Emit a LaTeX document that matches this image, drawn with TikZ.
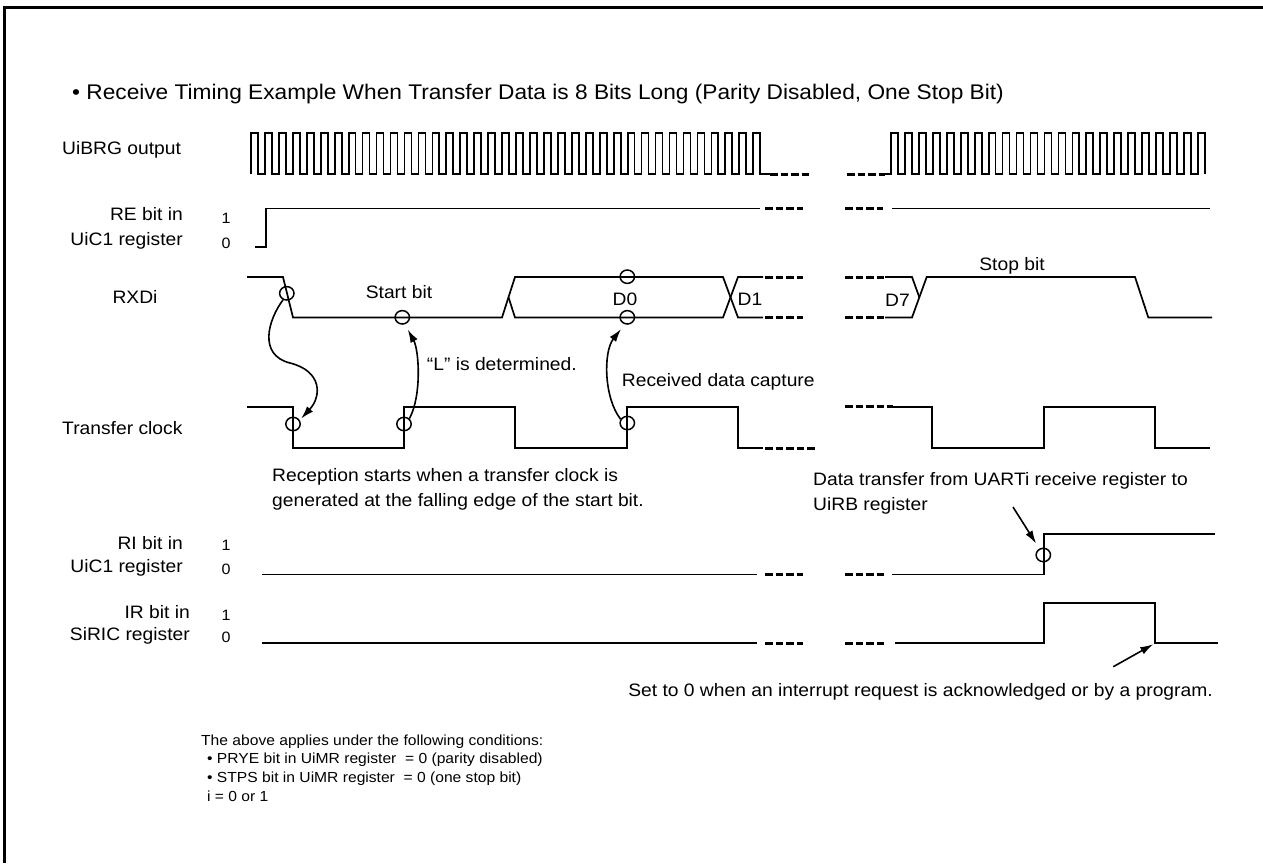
\documentclass[tikz,border=0pt]{standalone}
\usepackage{fontspec}
\setmainfont{Liberation Sans}[FakeStretch=1.07]
\usetikzlibrary{arrows.meta,shapes.geometric}
\newcommand{\bodyfs}{\fontsize{18}{21}\selectfont}
\newcommand{\titlefs}{\fontsize{21.2}{25}\selectfont}
\newcommand{\smallfs}{\fontsize{14.6}{17}\selectfont}
\newcommand{\digitfs}{\fontsize{15}{17}\selectfont}
\begin{document}
\begin{tikzpicture}[x=1pt,y=-1pt,
  sig/.style={line width=1.7pt},
  brk/.style={line width=3pt,dash pattern=on 7.5pt off 3pt},
  probe/.style={draw,ellipse,line width=1.5pt,minimum width=14.4pt,minimum height=13.4pt,inner sep=0pt},
  arr/.style={line width=1.6pt,-{Latex[length=13pt,width=8pt]}},
  lbl/.style={inner sep=0pt,font=\bodyfs},
  dig/.style={inner sep=0pt,font=\digitfs,anchor=base},
  cond/.style={inner sep=0pt,font=\smallfs,anchor=base west}]
\useasboundingbox (0,0) rectangle (1263,863);
% frame
\draw[line width=3pt] (4.5,863) -- (4.5,7.5) -- (1263,7.5);
% title
\node[inner sep=0pt,font=\titlefs,anchor=base west] (title) at (72,99) {• Receive Timing Example When Transfer Data is 8 Bits Long (Parity Disabled, One Stop Bit)};
% signal labels
\node[lbl,anchor=base west] (lbrg) at (62,154) {UiBRG output};
\node[lbl,anchor=base east] (lre1) at (183,220) {RE bit in};
\node[lbl,anchor=base east] (lre2) at (183,245) {UiC1 register};
\node[dig] (re1) at (226,223) {1};
\node[dig] (re0) at (226,248) {0};
\node[lbl,anchor=base] (lrxd) at (135,303.5) {RXDi};
\node[lbl,anchor=base west] (lclk) at (62,434.5) {Transfer clock};
\node[lbl,anchor=base east] (lri1) at (183,549) {RI bit in};
\node[lbl,anchor=base east] (lri2) at (183,572.7) {UiC1 register};
\node[dig] (ri1) at (226,550.7) {1};
\node[dig] (ri0) at (226,574) {0};
\node[lbl,anchor=base east] (lir1) at (190,618) {IR bit in};
\node[lbl,anchor=base east] (lir2) at (190,640.7) {SiRIC register};
\node[dig] (ir1) at (226,620) {1};
\node[dig] (ir0) at (226,642.7) {0};
% UiBRG output clock
\draw[sig] (251,174) \foreach \k in {0,...,36}{ -- ++(0,-41) -- ++(6.975,0) -- ++(0,41) -- ++(6.975,0)} -- (770,174);
\draw[brk] (770,174) -- (810,174);
\draw[brk] (847,174) -- (885,174);
\draw[sig] (885,174) -- (891,174) \foreach \k in {0,...,21}{ -- ++(0,-41) -- ++(6.975,0) -- ++(0,41) -- ++(6.975,0)} -- ++(0,-41) -- ++(6.975,0) -- ++(0,41);
% RE bit
\draw[sig] (255,247) -- (266,247) -- (266,208.5) -- (760,208.5);
\draw[brk] (765,208.5) -- (803,208.5);
\draw[brk] (845,208.5) -- (883,208.5);
\draw[sig] (892,208.5) -- (1210,208.5);
% RXDi
\draw[sig] (247,277) -- (283,277) -- (293,317.5) -- (502,317.5) -- (515,277) -- (723,277) -- (738,317.5) -- (763,317.5);
\draw[sig] (508.5,297.25) -- (515,317.5) -- (723,317.5) -- (738,277) -- (763,277);
\draw[brk] (765,277) -- (803,277);
\draw[brk] (765,317.5) -- (803,317.5);
\draw[brk] (845,277) -- (885,277);
\draw[brk] (845,317.5) -- (885,317.5);
\draw[sig] (885,277) -- (912,277) -- (919.3,297.25);
\draw[sig] (885,317.5) -- (912,317.5) -- (926.7,277) -- (1135,277) -- (1148.3,317.5) -- (1212,317.5);
\node[lbl,anchor=base] (sbit) at (399,298.3) {Start bit};
\node[lbl,anchor=base] (d0) at (625,305) {D0};
\node[lbl,anchor=base] (d1) at (750,305) {D1};
\node[lbl,anchor=base] (d7) at (897.5,306) {D7};
\node[lbl,anchor=base] (stopbit) at (1012,270) {Stop bit};
% Transfer clock
\draw[sig] (247,406.7) -- (292.7,406.7) -- (292.7,448.3) -- (404,448.3) -- (404,406.7) -- (515,406.7) -- (515,448.3) -- (627.3,448.3) -- (627.3,406.7) -- (738,406.7) -- (738,448.3) -- (763,448.3);
\draw[brk] (765,448.3) -- (815,448.3);
\draw[brk] (845,406.7) -- (893,406.7);
\draw[sig] (893,406.7) -- (932,406.7) -- (932,448.3) -- (1044,448.3) -- (1044,406.7) -- (1155,406.7) -- (1155,448.3) -- (1210,448.3);
% RI bit
\draw[sig] (262,574.5) -- (757,574.5);
\draw[brk] (765,574.5) -- (803,574.5);
\draw[brk] (845,574.5) -- (885,574.5);
\draw[sig] (891.7,574.5) -- (1044,574.5) -- (1044,534) -- (1215,534);
% IR bit
\draw[sig] (262,643.3) -- (757,643.3);
\draw[brk] (765,643.3) -- (803,643.3);
\draw[brk] (845,643.3) -- (885,643.3);
\draw[sig] (895,643.3) -- (1044,643.3) -- (1044,602.7) -- (1155,602.7) -- (1155,643.3) -- (1218,643.3);
\coordinate (irfall) at (1155,643.3);
% probe circles
\node[probe] (c1) at (286.8,293.3) {};
\node[probe] (c2) at (402.3,317.3) {};
\node[probe] (c3) at (627.3,276.7) {};
\node[probe] (c4) at (627.3,317.3) {};
\node[probe] (c5) at (293,424) {};
\node[probe] (c6) at (404,424) {};
\node[probe] (c7) at (627.3,423) {};
\node[probe] (c8) at (1043.3,555) {};
% arrows
\draw[arr,shorten >=2pt] (c1.240) .. controls (268,320) and (258,355) .. (290,363) .. controls (322,371) and (322,396) .. (c5.30);
\draw[arr,shorten >=6pt] (c6.45) .. controls (422,395) and (419,350) .. (c2.-70);
\draw[arr,shorten >=6pt] (c7.150) .. controls (604,398) and (603,352) .. (c4.-110);
\coordinate (a4s) at (1013,507);
\draw[arr,shorten >=6pt] (a4s) -- (c8.122);
\coordinate (a5s) at (1113.3,666.7);
\draw[arr,shorten >=2pt] (a5s) -- (irfall);
% annotations
\node[lbl,anchor=base west] (ldet) at (426.7,370) {“L” is determined.};
\node[lbl,anchor=base west] (lcap) at (621.7,386.7) {Received data capture};
\node[lbl,anchor=base west] (lrec1) at (272,481) {Reception starts when a transfer clock is};
\node[lbl,anchor=base west] (lrec2) at (272,506.5) {generated at the falling edge of the start bit.};
\node[lbl,anchor=base west] (ldt1) at (813,485) {Data transfer from UARTi receive register to};
\node[lbl,anchor=base west] (ldt2) at (813,510) {UiRB register};
\node[lbl,anchor=base east] (lset) at (1213,696) {Set to 0 when an interrupt request is acknowledged or by a program.};
% conditions
\node[cond] (cd0) at (201,745) {The above applies under the following conditions:};
\node[cond] (cd1) at (207,763.5) {• PRYE bit in UiMR register \ = 0 (parity disabled)};
\node[cond] (cd2) at (207,782) {• STPS bit in UiMR register \ = 0 (one stop bit)};
\node[cond] (cd3) at (207,801) {i = 0 or 1};
\end{tikzpicture}
\end{document}
